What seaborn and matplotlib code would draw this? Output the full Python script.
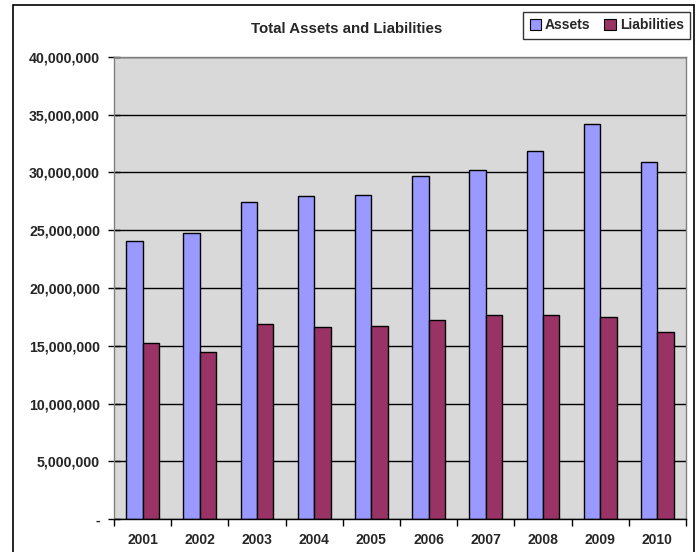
import matplotlib
matplotlib.use('Agg')
import matplotlib.pyplot as plt
import matplotlib.patches as mpatches
from matplotlib.ticker import FuncFormatter, MultipleLocator, FixedLocator
import numpy as np
import pandas as pd
import seaborn as sns

# values
years = ['2001', '2002', '2003', '2004', '2005', '2006', '2007', '2008', '2009', '2010']
assets = [24100000, 24730000, 27420000, 27970000, 28080000,
          29670000, 30190000, 31860000, 34230000, 30910000]
liabilities = [15210000, 14490000, 16860000, 16600000, 16680000,
               17200000, 17660000, 17660000, 17490000, 16190000]
series = ['Assets', 'Liabilities']
colors = {'Assets': '#9999FF', 'Liabilities': '#993366'}

df = pd.DataFrame({
    'Year': years * 2,
    'Value': assets + liabilities,
    'Series': ['Assets'] * len(years) + ['Liabilities'] * len(years),
})

sns.set_style('white')
plt.rcParams['font.family'] = ['Liberation Sans', 'DejaVu Sans']
plt.rcParams['font.weight'] = 'bold'

fig = plt.figure(figsize=(7, 5.52), dpi=100)
ax = fig.add_axes([114 / 700, 1 - 519 / 552, 572 / 700, 462 / 552])
ax.set_facecolor('#D9D9D9')

sns.barplot(data=df, x='Year', y='Value', hue='Series', palette=colors,
            width=4 / 7, edgecolor='black', linewidth=1, saturation=1,
            ax=ax, legend=False)

ax.set_xlim(-0.5, len(years) - 0.5)
ax.set_ylim(0, 40000000)
ax.set_xlabel('')
ax.set_ylabel('')

# y axis: gridlines every 5M, accounting style labels
ax.yaxis.set_major_locator(MultipleLocator(5000000))
ax.yaxis.set_major_formatter(FuncFormatter(lambda v, p: '-' if v == 0 else f'{int(v):,}'))
ax.set_axisbelow(True)
ax.grid(axis='y', color='black', linewidth=1)
ax.tick_params(axis='y', direction='inout', length=8, width=1, color='black',
               labelsize=10.2, pad=6, left=True)

# x axis: ticks between categories
ax.xaxis.set_minor_locator(FixedLocator(np.arange(-0.5, len(years), 1)))
ax.tick_params(axis='x', which='major', length=0, labelsize=10, pad=10)
ax.tick_params(axis='x', which='minor', direction='out', length=5, width=1,
               color='black', bottom=True)

for side in ['top', 'right', 'left']:
    ax.spines[side].set_color('#808080')
    ax.spines[side].set_linewidth(1)
ax.spines['bottom'].set_color('black')
ax.spines['bottom'].set_linewidth(1)

fig.text(347 / 700, 1 - 29 / 552, 'Total Assets and Liabilities',
         ha='center', va='center', fontsize=10.8, weight='bold')

handles = [mpatches.Patch(facecolor=colors[s], edgecolor='black', linewidth=0.8) for s in series]
leg = fig.legend(handles, series, loc='upper right',
                 bbox_to_anchor=(690 / 700, 1 - 12 / 552), ncol=2,
                 frameon=True, fancybox=False, edgecolor='black',
                 handlelength=0.8, handleheight=0.8, handletextpad=0.3,
                 columnspacing=1.0, borderpad=0.45, borderaxespad=0,
                 prop={'size': 10, 'weight': 'bold'})
leg.get_frame().set_linewidth(1)

# outer chart frame
fig.patches.append(mpatches.Rectangle((13 / 700, -0.02), 681 / 700, 1.02 - 5 / 552,
                                      transform=fig.transFigure, fill=False,
                                      edgecolor='black', linewidth=1.2))

fig.savefig('out.png', dpi=100)
